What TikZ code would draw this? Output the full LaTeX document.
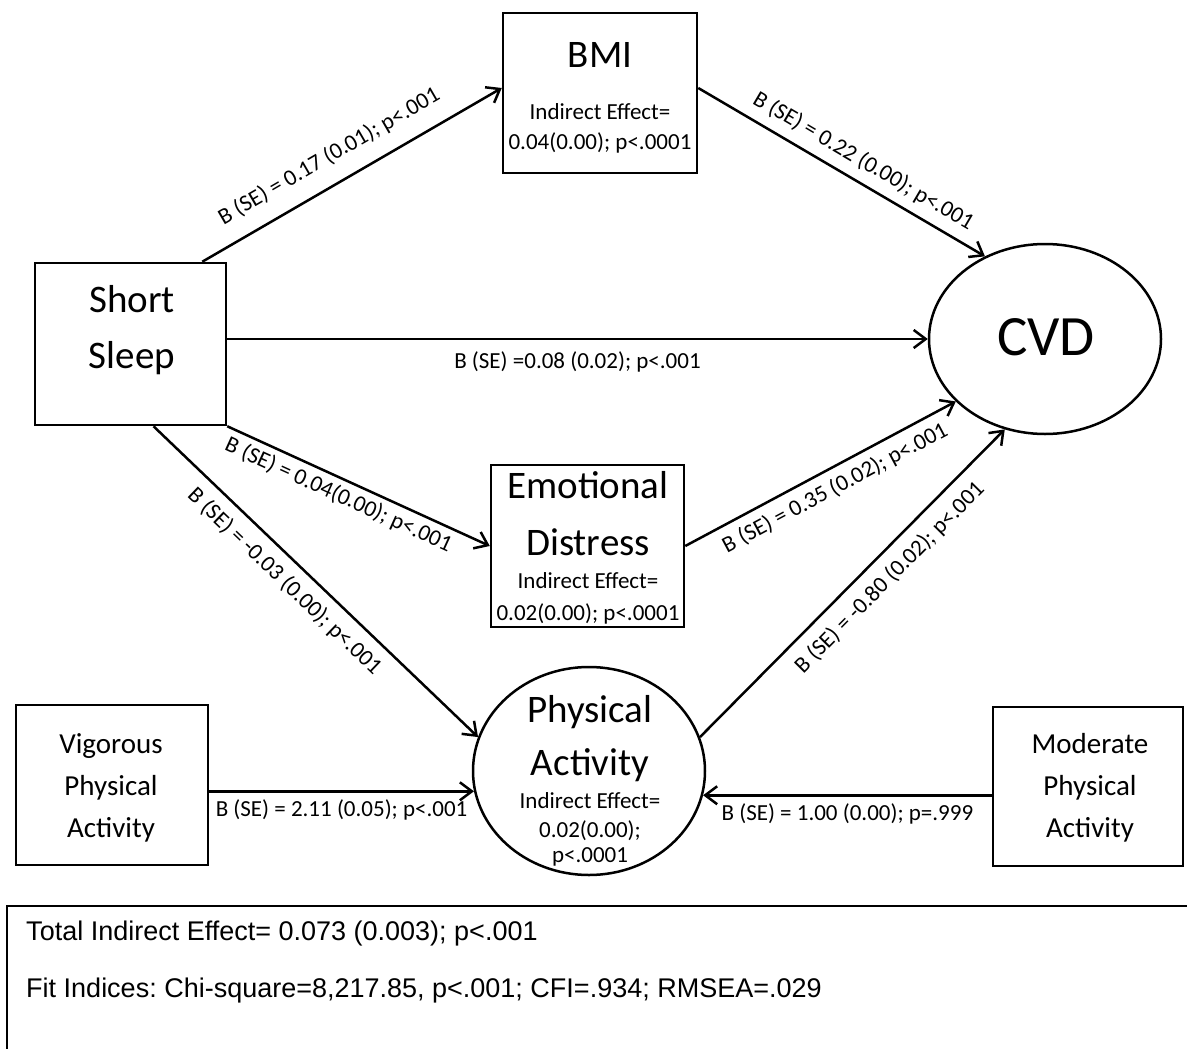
\documentclass[tikz,border=0pt]{standalone}
\usepackage{fontspec}
\setmainfont{Carlito}
\newfontfamily\arialfont{Liberation Sans}
\usetikzlibrary{shapes.geometric,arrows.meta}
\begin{document}
\frenchspacing
\begin{tikzpicture}[x=1pt,y=-1pt,line width=2.5pt,>={Straight Barb[length=12pt,width=18pt]},
	varbox/.style={draw,rectangle,inner sep=0pt},
	varoval/.style={draw,ellipse,inner sep=0pt},
	big/.style={anchor=base,inner sep=0pt,font=\fontsize{39}{44}\selectfont},
	mid/.style={anchor=base,inner sep=0pt,font=\fontsize{29}{34}\selectfont},
	small/.style={anchor=base,inner sep=0pt,font=\fontsize{23}{27}\selectfont},
	lbl/.style={inner sep=5pt,font=\fontsize{23}{27}\selectfont},
	note/.style={anchor=base west,inner sep=0pt,font=\arialfont\fontsize{27}{32}\selectfont}]
	\useasboundingbox (0,0) rectangle (1187,1049);
	\node[varbox,minimum width=191pt,minimum height=162pt] (ss) at (130.5,344) {};
	\node[big] (short) at (132,312) {Short};
	\node[big] (sleep) at (132,368) {Sleep};
	\node[varbox,minimum width=194pt,minimum height=160pt] (bmi) at (600,93) {};
	\node[big] (bminame) at (600,68) {BMI};
	\node[small] (bmiind) at (600,120) {Indirect Effect=};
	\node[small] (bmival) at (600,149) {0.04(0.00); p<.0001};
	\node[varoval,minimum width=232pt,minimum height=190pt] (cvd) at (1045,339) {};
	\node[anchor=base,inner sep=0pt,font=\fontsize{57}{60}\selectfont] (cvdname) at (1046,355) {CVD};
	\node[varbox,minimum width=193pt,minimum height=162pt] (ed) at (587.5,546) {};
	\node[big] (edname) at (588,498) {Emotional};
	\node[big] (edname2) at (588,555) {Distress};
	\node[small] (edind) at (588,588) {Indirect Effect=};
	\node[small] (edval) at (588,620) {0.02(0.00); p<.0001};
	\node[varoval,minimum width=232pt,minimum height=208pt] (pa) at (589,771) {};
	\node[big] (paname) at (590,722) {Physical};
	\node[big] (paname2) at (590,775) {Activity};
	\node[small] (paind) at (590,808) {Indirect Effect=};
	\node[small] (paval) at (590,837) {0.02(0.00);};
	\node[small] (paval2) at (590,862) {p<.0001};
	\node[varbox,minimum width=192pt,minimum height=160pt] (vig) at (112,785) {};
	\node[mid] (vigname) at (111,753) {Vigorous};
	\node[mid] (vigname2) at (111,795) {Physical};
	\node[mid] (vigname3) at (111,837) {Activity};
	\node[varbox,minimum width=190pt,minimum height=159pt] (mod) at (1088,786.5) {};
	\node[mid] (modname) at (1090,753) {Moderate};
	\node[mid] (modname2) at (1090,795) {Physical};
	\node[mid] (modname3) at (1090,837) {Activity};
	\draw[->] ([xshift=-25pt]ss.north east) -- node[lbl,sloped,above=11pt,pos=0.47] {B (SE) = 0.17 (0.01); p<.001} ([yshift=5pt]bmi.west);
	\draw[->] (ss.east |- cvd.west) -- node[lbl,below=6pt] {B (SE) =0.08 (0.02); p<.001} (cvd.west);
	\draw[->] ([yshift=5pt]bmi.east) -- node[lbl,sloped,above=4pt,pos=0.54] {B (SE) = 0.22 (0.00); p<.001} (cvd.126);
	\draw[->] (ss.south east) -- node[lbl,sloped,below,pos=0.45] {B (SE) = 0.04(0.00); p<.001} (ed.west);
	\draw[->] (ed.east) -- node[lbl,sloped,below=3pt,pos=0.52] {B (SE) = 0.35 (0.02); p<.001} (cvd.215);
	\draw[->] ([xshift=23pt]ss.south) -- node[lbl,sloped,below=5pt,pos=0.45] {B (SE) = -0.03 (0.00); p<.001} (pa.163);
	\draw[->] (pa.17) -- node[lbl,sloped,below=6pt,pos=0.57] {B (SE) = -0.80 (0.02); p<.001} (cvd.246);
	\draw[->] (vig.east |- pa.190) -- node[lbl,below=2pt] {B (SE) = 2.11 (0.05); p<.001} (pa.190);
	\draw[->] (mod.west |- pa.348) -- node[lbl,below=2pt] {B (SE) = 1.00 (0.00); p=.999} (pa.348);
	\node[draw,line width=1.5pt,anchor=north west,minimum width=1220pt,minimum height=170pt] (notes) at (6,905) {};
	\node[note] (total) at (25,940) {Total Indirect Effect= 0.073 (0.003); p<.001};
	\node[note] (fit) at (25,997) {Fit Indices: Chi-square=8,217.85, p<.001; CFI=.934; RMSEA=.029};
\end{tikzpicture}
\end{document}
